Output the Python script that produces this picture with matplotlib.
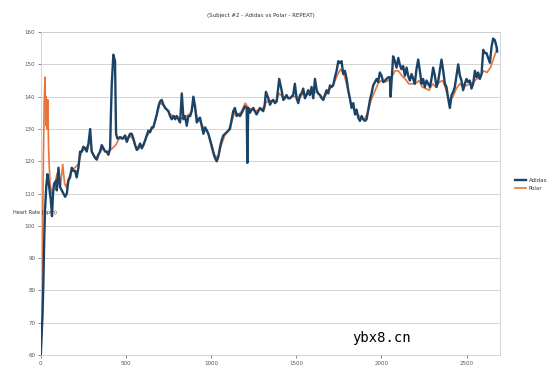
import matplotlib
matplotlib.use("Agg")
import matplotlib.pyplot as plt

title = "(Subject #2 - Adidas vs Polar - REPEAT)"
ylabel = "Heart Rate (bpm)"
series_names = ["Adidas", "Polar"]
xticks = [0, 500, 1000, 1500, 2000, 2500]
yticks = [60, 70, 80, 90, 100, 110, 120, 130, 140, 150, 160]

adidas_t = [0, 5, 10, 15, 20, 25, 32, 39, 47, 59, 66, 72, 78, 90, 94, 104, 113, 123, 133, 143,
            153, 162, 172, 182, 192, 202, 211, 221, 231, 241, 250, 260, 270, 280, 290, 299, 309,
            319, 329, 338, 348, 358, 368, 378, 387, 397, 407, 412, 417, 426, 436, 442, 450, 466,
            480, 495, 505, 524, 534, 544, 554, 564, 573, 583, 593, 603, 613, 622, 632, 642, 652,
            661, 671, 681, 691, 700, 710, 720, 730, 740, 750, 759, 769, 779, 789, 798, 808, 818,
            828, 838, 847, 857, 867, 877, 886, 896, 906, 916, 926, 935, 945, 955, 965, 975, 984,
            994, 1004, 1014, 1023, 1033, 1043, 1053, 1062, 1072, 1082, 1092, 1102, 1111, 1121,
            1130, 1140, 1150, 1160, 1170, 1180, 1189, 1199, 1209, 1213, 1218, 1228, 1238, 1248,
            1257, 1267, 1277, 1287, 1297, 1306, 1314, 1322, 1336, 1346, 1355, 1365, 1375, 1385,
            1400, 1414, 1424, 1433, 1443, 1453, 1463, 1472, 1482, 1492, 1502, 1512, 1522, 1531,
            1541, 1551, 1560, 1570, 1580, 1590, 1600, 1610, 1620, 1629, 1639, 1649, 1659, 1668,
            1678, 1688, 1698, 1708, 1717, 1727, 1737, 1747, 1756, 1766, 1776, 1786, 1796, 1805,
            1815, 1825, 1835, 1845, 1854, 1864, 1874, 1884, 1893, 1903, 1913, 1923, 1933, 1942,
            1952, 1962, 1972, 1981, 1991, 2001, 2011, 2021, 2030, 2040, 2050, 2054, 2060, 2069,
            2079, 2089, 2099, 2108, 2118, 2128, 2138, 2148, 2157, 2167, 2177, 2187, 2196, 2206,
            2216, 2226, 2236, 2245, 2255, 2265, 2275, 2285, 2294, 2304, 2314, 2324, 2334, 2343,
            2353, 2363, 2373, 2382, 2392, 2402, 2412, 2422, 2431, 2441, 2451, 2461, 2470, 2480,
            2490, 2500, 2510, 2519, 2529, 2539, 2549, 2559, 2568, 2578, 2588, 2598, 2608, 2617,
            2627, 2637, 2647, 2656, 2666, 2676, 2680]
adidas_hr = [60, 66, 72, 82, 95, 105, 112, 116, 113, 108, 103, 110, 113, 114, 111, 118, 112, 111, 110, 109,
             110, 114, 115, 118, 117, 117, 115, 118, 123, 123, 124.5, 124, 123, 125.5, 130, 123, 122,
             121, 120.5, 122, 123, 125, 124, 123, 123, 122, 124, 135, 144, 153, 151, 128.5, 127, 127.5,
             127, 128, 126, 128.5, 128.5, 127, 125, 123.5, 124, 125.5, 124, 125, 126.5, 128, 129.5, 129, 130.5,
             130.5, 132.5, 134.5, 137, 138.5, 139, 137.5, 136.5, 136, 135.5, 134, 133, 134, 133, 134, 133, 132,
             141, 133, 134, 131, 134, 134, 135.5, 140, 137, 132, 133, 133.5, 131, 128.5, 130.5, 129.5, 128.5,
             126.5, 124.5, 122.5, 121, 120, 121.5, 124.5, 126.5, 128, 128.5, 129, 129.5, 130, 133,
             135.5, 136.5, 134, 134.5, 134, 135, 136, 137, 136.5, 119.5, 136.5, 135, 136, 136.5,
             135.5, 134.5, 135.5, 136.5, 136, 135.5, 137, 141.5, 139.5, 137.5, 138.5, 139, 138, 138.5,
             145.5, 142, 139, 139.5, 140.5, 139.5, 139.5, 140, 140.5, 144, 139.5, 138, 140.5, 141,
             142.5, 139.5, 140.5, 142, 140.5, 143, 139.5, 145.5, 142, 141, 140.5, 139.5, 139, 140.5,
             142, 141, 143.5, 143, 143.5, 146, 148, 151, 150.5, 151, 147, 148, 145.5, 142,
             139.5, 136.5, 138, 134.5, 136, 133.5, 132.5, 134, 133, 132.5, 133, 136, 139, 141,
             143.5, 144.5, 145.5, 144.5, 147.5, 146.5, 144.5, 145, 145.5, 146, 146, 140, 145, 152.5,
             151, 149, 152, 150, 148.5, 149.5, 146.5, 149, 146.5, 145, 147, 145.5, 144, 148.5,
             151.5, 148, 144, 145.5, 143, 145, 144, 143, 145.5, 149, 146.5, 143, 145, 148,
             151.5, 148, 144, 143, 139.5, 136.5, 140.5, 141.5, 143, 146.5, 150, 146.5, 145, 142,
             144, 145.5, 144.5, 145, 142.5, 144, 148, 146, 147.5, 145.5, 147, 154.5, 153.5, 153.5,
             152, 150.5, 155.5, 158, 157.5, 155.5, 154]

polar_t = [0, 5, 10, 15, 20, 25, 28, 30, 32, 34, 36, 38, 40, 42, 44, 46, 50, 55, 65, 80, 95, 105,
           115, 129, 140, 150,
           165, 180, 200, 220, 240, 260, 280, 290, 300, 320, 340, 360, 380, 400, 420, 440, 460,
           480, 500, 520, 540, 560, 580, 600, 620, 640, 660, 680, 700, 720, 740, 760, 780, 800,
           820, 840, 860, 880, 900, 920, 940, 960, 980, 1000, 1020, 1040, 1060, 1080, 1100, 1120,
           1140, 1160, 1180, 1200, 1220, 1240, 1260, 1280, 1300, 1320, 1340, 1360, 1380, 1400,
           1420, 1440, 1460, 1480, 1500, 1520, 1540, 1560, 1580, 1600, 1620, 1640, 1660, 1680,
           1700, 1720, 1740, 1760, 1780, 1800, 1820, 1840, 1860, 1880, 1900, 1920, 1940, 1960,
           1980, 2000, 2020, 2040, 2060, 2080, 2100, 2120, 2140, 2160, 2180, 2200, 2220, 2240,
           2260, 2280, 2300, 2320, 2340, 2360, 2380, 2400, 2420, 2440, 2460, 2480, 2500, 2520,
           2540, 2560, 2580, 2600, 2620, 2640, 2660, 2680]
polar_hr = [60, 75, 95, 120, 138, 146, 137, 140, 131, 139, 130, 138, 131, 139, 130, 124, 118, 113,
            110, 112, 116, 117, 112, 119, 113, 112,
            115, 117, 118, 119, 123, 124, 125, 127, 123, 121, 122, 124, 123, 123, 124, 125, 127,
            127, 127, 128, 127, 124, 125, 125, 127.5, 129, 130.5, 134, 138, 137.5, 136, 134.5, 134, 134,
            133, 134, 134, 135, 138, 133, 132, 130, 129, 126, 122, 121, 125, 128, 129.5, 132,
            135.5, 134.5, 135.5, 138, 136.5, 136, 135.5, 136, 136, 138, 139, 138.5, 138.5, 141,
            140, 140, 139.5, 140, 140, 139.5, 141, 140.5, 141, 141, 141.5, 140.5, 139.5, 141,
            142.5, 144, 146.5, 148.5, 147, 143, 138, 136, 134.5, 133.5, 133, 135, 139, 141.5,
            144, 145, 144.5, 145, 146, 148, 148, 146.5, 145.5, 144, 144, 144, 145, 143,
            142.5, 142, 144, 143, 144.5, 145, 142, 138.5, 140, 142.5, 144, 143, 143.5, 144,
            144.5, 145.5, 146, 148, 147.5, 149, 152, 155]

adidas_color = "#1b4368"
polar_color = "#e8743b"

fig = plt.figure(figsize=(5.51, 3.69), dpi=100)
ax = fig.add_axes([0.074, 0.038, 0.833, 0.875])

ax.plot(polar_t, polar_hr, color=polar_color, lw=1.2, label=series_names[1], zorder=2)
ax.plot(adidas_t, adidas_hr, color=adidas_color, lw=1.7, label=series_names[0], zorder=3)

ax.set_xlim(0, 2695)
ax.set_ylim(60, 160)
ax.set_xticks(xticks)
ax.set_yticks(yticks)
ax.tick_params(axis="both", labelsize=4, colors="#555555", length=2, width=0.5, pad=2)
ax.yaxis.grid(True, color="#cccccc", lw=0.6)
ax.set_axisbelow(True)
for s in ax.spines.values():
    s.set_color("#cccccc")
    s.set_linewidth(0.6)

fig.text(0.474, 0.959, title, ha="center", va="center", fontsize=4, color="#333333")
fig.text(0.024, 0.423, ylabel, ha="left", va="center", fontsize=3.6, color="#333333")

h, l = ax.get_legend_handles_labels()
leg = fig.legend([h[1], h[0]], [l[1], l[0]], loc="center left", bbox_to_anchor=(0.925, 0.50),
                 frameon=False, fontsize=4, handlelength=2, handletextpad=0.5, labelspacing=0.6)
for t in leg.get_texts():
    t.set_color("#333333")

fig.text(0.640, 0.085, "ybx8.cn", fontsize=10, family="DejaVu Sans Mono", color="black",
         ha="left", va="center")

fig.savefig("out.png", dpi=100)
